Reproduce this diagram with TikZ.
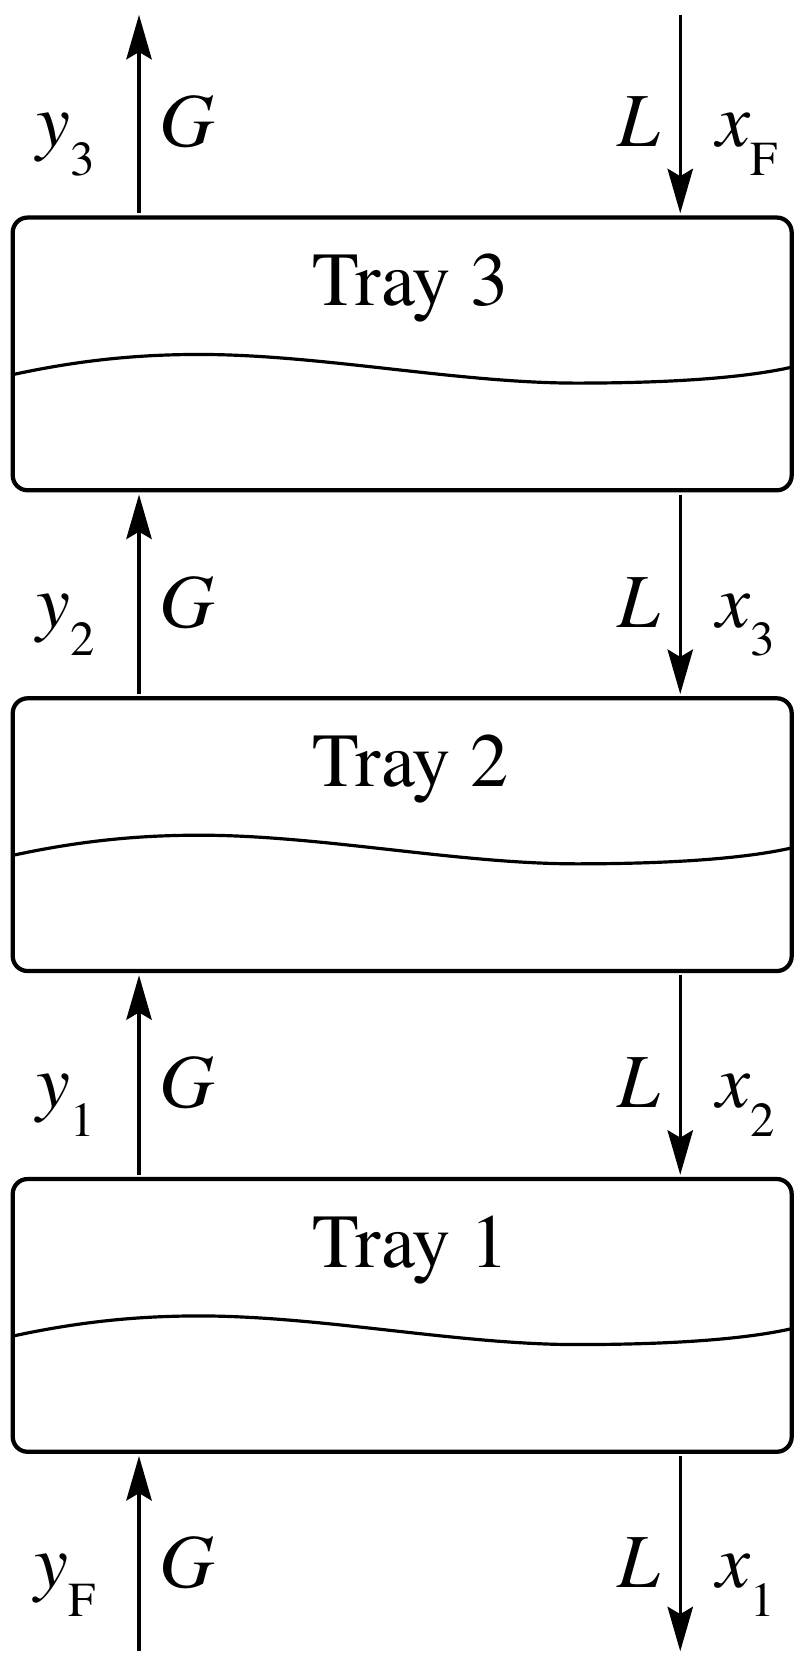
\documentclass[tikz,border=0pt]{standalone}
\usepackage{fontspec}
\setmainfont{texgyretermes}[Extension=.otf,UprightFont=*-regular,ItalicFont=*-italic,
	BoldFont=*-bold,BoldItalicFont=*-bolditalic]
\usetikzlibrary{arrows.meta}
\newcommand{\lowsub}[1]{\raisebox{-27pt}{\fontsize{46}{46}\selectfont\upshape #1}}
\begin{document}
\begin{tikzpicture}[x=1pt,y=-1pt,line cap=butt,line join=miter,
		>={Stealth[length=42pt,width=24pt,inset=7pt]},font=\fontsize{72}{72}\selectfont]
	\tikzset{tray/.style={draw,line width=4pt,rounded corners=14pt,minimum width=734pt,
			inner sep=0pt,text height=83pt,text depth=174pt,anchor=north},
		flow/.style={->,line width=3pt,shorten <=2pt,shorten >=2pt},
		wave/.style={line width=3pt},
		lab/.style={inner sep=0pt}}
	\useasboundingbox (0,0) rectangle (754,1568);
	\coordinate (top) at (379,12);
	\coordinate (bot) at (379,1558);
	\coordinate (gcol) at (131,0);
	\coordinate (lcol) at (641,0);
	% trays with liquid level
	\foreach \n/\t in {3/203,2/656,1/1109}{
		\node[tray] (tray\n) at (379,\t) {\hspace{16pt}Tray \n};
		\draw[wave,shift={(12,\t)}] (0,150) .. controls (60,137) and (115,131) .. (176,131)
			.. controls (290,131) and (420,158) .. (531,158)
			.. controls (620,158) and (690,153) .. (734,143);}
	% gas up, liquid down
	\foreach \a/\b/\yb/\s/\f in {top/tray3.north/138/3/F,tray3.south/tray2.north/591/2/3,
		tray2.south/tray1.north/1044/1/2,tray1.south/bot/1496/F/1}{
		\draw[flow] (\b -| gcol) -- (\a -| gcol);
		\draw[flow] (\a -| lcol) -- (\b -| lcol);
		\node[lab,anchor=base east] (y\s) at (90,\yb) {\textit{y}\lowsub{\s}};
		\node[lab,anchor=base west] (G\s) at (150,\yb) {\textit{G}};
		\node[lab,anchor=base east] (L\f) at (622,\yb) {\textit{L}};
		\node[lab,anchor=base west] (x\f) at (675,\yb) {\textit{x}\lowsub{\f}};}
\end{tikzpicture}
\end{document}
